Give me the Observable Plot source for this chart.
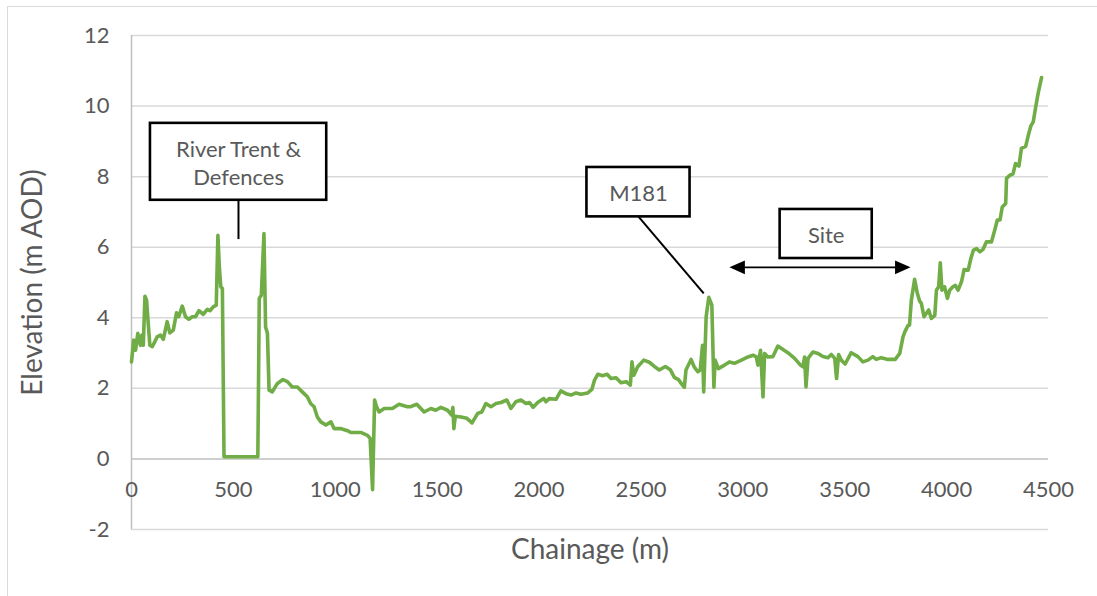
<!DOCTYPE html>
<html>
<head>
<meta charset="utf-8">
<script src="https://cdn.jsdelivr.net/npm/d3@7"></script>
<script src="https://cdn.jsdelivr.net/npm/@observablehq/plot@0.6"></script>
<style>
  html, body { margin: 0; padding: 0; background: #fff; }
  #wrap { position: relative; width: 1097px; height: 596px; overflow: hidden; }
  #frame { position: absolute; left: 7px; top: 6px; width: 1100px; height: 600px; border: 1.5px solid #d9d9d9; box-sizing: border-box; }
  #chart { position: absolute; left: 0; top: 0; }
</style>
</head>
<body>
<div id="wrap"><div id="frame"></div><div id="chart"></div></div>
<script>
// ---- data ----
const chainage = [0,11,20,31,44,51,58,66,74,82,90,102,126,142,156,175,188,205,221,232,249,265,281,298,314,331,352,372,385,401,416,424,431,438,446,454,620,627,637,650,658,667,675,691,716,743,765,789,814,838,863,879,896,912,929,954,979,994,1026,1060,1076,1125,1158,1171,1183,1193,1203,1215,1240,1280,1313,1354,1370,1400,1436,1469,1493,1518,1551,1571,1577,1582,1589,1617,1646,1671,1699,1719,1739,1764,1789,1813,1842,1862,1886,1911,1936,1953,1971,1993,2023,2034,2050,2083,2107,2132,2157,2181,2206,2239,2259,2272,2288,2313,2334,2353,2378,2402,2427,2448,2456,2465,2484,2514,2541,2566,2590,2620,2644,2664,2684,2700,2713,2721,2746,2762,2779,2791,2802,2808,2820,2833,2848,2858,2864,2880,2910,2934,2959,2993,3025,3050,3066,3074,3087,3099,3107,3123,3148,3172,3197,3221,3254,3283,3295,3303,3310,3320,3344,3369,3393,3418,3434,3451,3460,3470,3483,3502,3532,3565,3589,3614,3638,3655,3679,3712,3748,3770,3786,3795,3811,3818,3827,3843,3856,3867,3876,3889,3900,3912,3925,3942,3950,3961,3969,3977,3990,4004,4015,4031,4043,4056,4073,4086,4106,4119,4132,4147,4163,4179,4195,4220,4236,4249,4262,4273,4290,4294,4310,4326,4338,4355,4367,4388,4400,4413,4425,4436,4449,4466];
const elevation = [2.75,3.37,3.08,3.56,3.22,3.51,3.22,4.61,4.50,3.85,3.22,3.18,3.46,3.51,3.39,3.89,3.57,3.65,4.14,4.03,4.33,4.03,3.96,4.03,4.03,4.20,4.10,4.24,4.20,4.31,4.36,6.34,5.44,4.88,4.83,0.06,0.06,4.55,4.64,6.39,3.74,3.56,1.95,1.90,2.14,2.25,2.19,2.04,2.04,1.90,1.76,1.57,1.48,1.19,1.05,0.96,1.05,0.86,0.86,0.80,0.75,0.75,0.67,0.58,-0.87,1.67,1.48,1.33,1.43,1.43,1.55,1.48,1.48,1.55,1.33,1.43,1.38,1.46,1.38,1.24,1.46,0.86,1.21,1.19,1.15,1.02,1.29,1.33,1.57,1.48,1.57,1.60,1.67,1.43,1.62,1.67,1.57,1.60,1.46,1.60,1.71,1.62,1.71,1.69,1.93,1.85,1.81,1.87,1.83,1.87,1.97,2.23,2.40,2.36,2.40,2.28,2.30,2.16,2.19,2.09,2.75,2.37,2.61,2.80,2.74,2.62,2.52,2.62,2.53,2.31,2.25,2.12,2.03,2.52,2.82,2.60,2.47,2.52,3.22,1.90,4.03,4.58,4.36,2.03,2.80,2.56,2.66,2.75,2.71,2.80,2.89,2.94,2.89,2.66,3.08,1.76,2.99,2.89,2.90,3.20,3.10,3.01,2.85,2.66,2.61,2.89,2.04,2.85,3.03,2.99,2.90,2.87,2.96,2.85,2.28,2.96,2.80,2.69,3.01,2.90,2.75,2.80,2.90,2.82,2.87,2.82,2.82,2.99,3.46,3.60,3.79,3.79,4.50,5.09,4.70,4.48,4.41,4.03,4.12,4.22,3.98,4.07,4.78,4.88,5.56,4.78,4.88,4.55,4.78,4.88,4.92,4.78,5.02,5.37,5.35,5.68,5.92,5.96,5.87,5.94,6.15,6.15,6.48,6.77,6.77,7.14,7.24,7.95,8.04,8.08,8.37,8.30,8.80,8.86,9.15,9.43,9.55,9.93,10.36,10.81];
const xTicks = [0,500,1000,1500,2000,2500,3000,3500,4000,4500];
const yTicks = [-2,0,2,4,6,8,10,12];
const xTitle = "Chainage (m)";
const yTitle = "Elevation (m AOD)";
// annotation boxes (data units)
const boxLabels = ["River Trent &\nDefences", "M181", "Site"];
const boxX1 = [93, 2235, 3183];
const boxX2 = [958, 2741, 3635];
const boxY1 = [7.33, 6.86, 5.68];
const boxY2 = [9.51, 8.26, 7.07];
const leaderFrom = [[525, 7.33], [2489, 6.86]];
const leaderTo = [[525, 6.23], [2808, 4.69]];
const siteArrow = {x1: 2934, x2: 3823, y: 5.43};

// ---- build ----
const profile = chainage.map((c, i) => ({x: c, y: elevation[i]}));
const boxes = boxLabels.map((t, i) => ({t, x1: boxX1[i], x2: boxX2[i], y1: boxY1[i], y2: boxY2[i]}));
const leaders = leaderFrom.map((f, i) => ({x1: f[0], y1: f[1], x2: leaderTo[i][0], y2: leaderTo[i][1]}));
const headSymbol = {
  draw(ctx) {
    ctx.moveTo(0, 0);
    ctx.lineTo(-15.5, -6.8);
    ctx.lineTo(-15.5, 6.8);
    ctx.closePath();
  }
};
const heads = [{x: siteArrow.x1, y: siteArrow.y, r: 180}, {x: siteArrow.x2, y: siteArrow.y, r: 0}];
const textColor = "#595959";

const chart = Plot.plot({
  width: 1097,
  height: 596,
  marginLeft: 131,
  marginRight: 49,
  marginTop: 35,
  marginBottom: 67,
  x: {domain: [0, 4500], axis: null},
  y: {domain: [-2, 12], axis: null},
  style: {fontFamily: "Lato, 'Open Sans', sans-serif", background: "transparent", color: textColor},
  marks: [
    Plot.ruleY(yTicks.filter(d => d !== 0), {stroke: "#d9d9d9", strokeWidth: 1.5}),
    Plot.ruleY([0], {stroke: "#bfbfbf", strokeWidth: 1.5}),
    Plot.ruleX([0], {y1: -2, y2: 12, stroke: "#bfbfbf", strokeWidth: 1.5}),
    Plot.text(yTicks, {x: 0, y: d => d, text: d => String(d), textAnchor: "end", dx: -22, fontSize: 22, fill: textColor}),
    Plot.text(xTicks.map(d => ({x: d, y: 0})), {x: "x", y: "y", text: d => String(d.x), dy: 31, fontSize: 22, fill: textColor}),
    Plot.text([xTitle], {frameAnchor: "bottom", textAnchor: "middle", dy: 29, fontSize: 28, fill: textColor}),
    Plot.text([yTitle], {frameAnchor: "left", textAnchor: "middle", dx: -98, rotate: -90, fontSize: 28, fill: textColor}),
    Plot.line(profile, {x: "x", y: "y", stroke: "#70ad47", strokeWidth: 3.6, strokeLinejoin: "round", strokeLinecap: "round"}),
    Plot.link(leaders, {x1: "x1", y1: "y1", x2: "x2", y2: "y2", stroke: "#000", strokeWidth: 2}),
    Plot.link([siteArrow], {x1: d => d.x1 + 60, x2: d => d.x2 - 60, y1: "y", y2: "y", stroke: "#000", strokeWidth: 1.6}),
    Plot.dot(heads, {x: "x", y: "y", symbol: headSymbol, rotate: "r", fill: "#000", stroke: "none"}),
    Plot.rect(boxes, {x1: "x1", x2: "x2", y1: "y1", y2: "y2", fill: "#fff", stroke: "#000", strokeWidth: 2.6}),
    Plot.text(boxes, {x: d => (d.x1 + d.x2) / 2, y: d => (d.y1 + d.y2) / 2, text: "t", fontSize: 22, lineHeight: 1.27, fill: textColor})
  ]
});
document.getElementById("chart").appendChild(chart);
</script>
</body>
</html>
